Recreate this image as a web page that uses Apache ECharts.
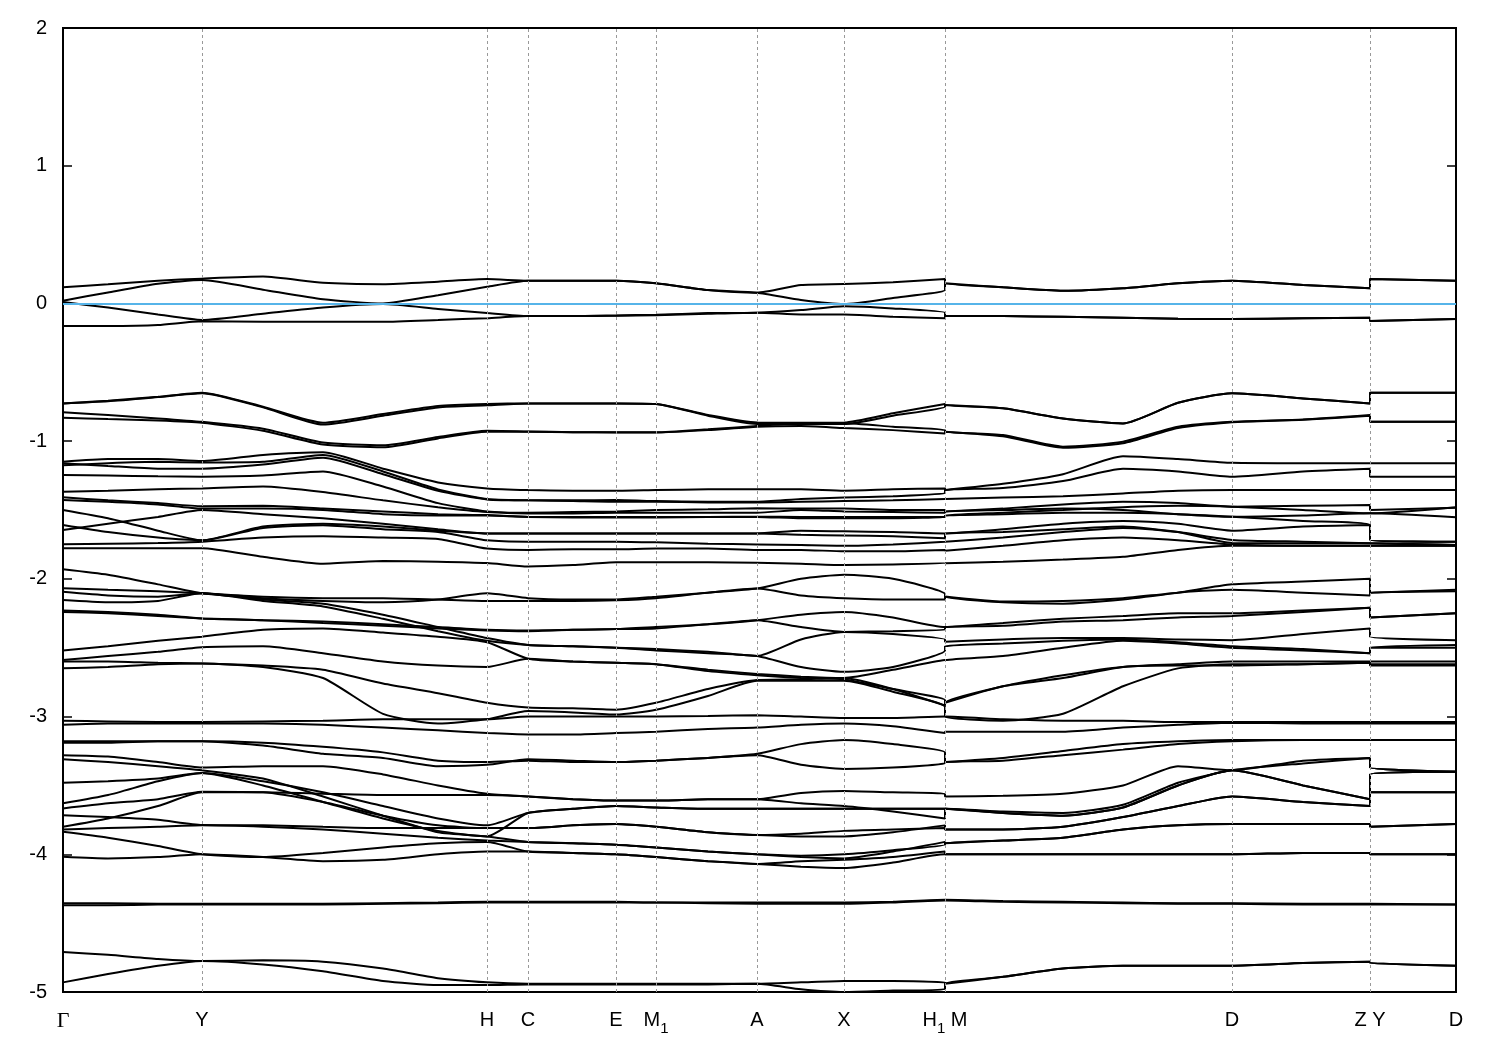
<!DOCTYPE html>
<html><head><meta charset="utf-8">
<script src="https://cdn.jsdelivr.net/npm/echarts@6/dist/echarts.min.js"></script>
<style>html,body{margin:0;padding:0;background:#fff}#c{width:1500px;height:1050px}</style>
</head><body><div id="c"></div>
<script>
// k-path sample positions (path distance units)
const kx = [0,45,95,139,200,260,320,375,424,465,510,553,593,645,694,738,781,830,882,882,940,1000,1060,1115,1169,1240,1307,1307,1393];
// high-symmetry points
const kTickPos = [0,139,424,465,553,593,694,781,882,1169,1307,1393];
const kTickLabels = ['{g|Γ}','{a|Y}','{a|H}','{a|C}','{a|E}','{a|M}{s|1}','{a|A}','{a|X}','{a|H}{s|1}{a| M}','{a|D}','{a|Z Y}','{a|D}'];
const fermiLevel = 0;

// energies (eV) at kx for each band
const bandsA = [
 [0.117,0.14,0.165,0.18,0.195,0.15,0.14,0.158,0.177,0.165,0.165,0.165,0.146,0.097,0.078,0.134,0.141,0.153,0.177,0.146,0.117,0.092,0.11,0.146,0.165,0.134,0.11,0.177,0.165],
 [0.02,0.08,0.143,0.17,0.1,0.03,0.0,0.06,0.121,0.165,0.165,0.165,0.146,0.097,0.078,0.025,-0.005,0.04,0.097,0.146,0.117,0.092,0.11,0.146,0.165,0.134,0.11,0.177,0.165],
 [0.01,-0.03,-0.08,-0.12,-0.075,-0.03,-0.005,-0.04,-0.07,-0.092,-0.092,-0.087,-0.082,-0.07,-0.067,-0.048,-0.02,-0.036,-0.067,-0.092,-0.092,-0.097,-0.104,-0.111,-0.113,-0.108,-0.104,-0.128,-0.113],
 [-0.164,-0.164,-0.157,-0.13,-0.133,-0.133,-0.133,-0.12,-0.107,-0.092,-0.092,-0.09,-0.085,-0.075,-0.067,-0.08,-0.08,-0.097,-0.107,-0.092,-0.092,-0.097,-0.104,-0.111,-0.113,-0.108,-0.104,-0.128,-0.113]
];
const bandsB = [
 [-0.726,-0.707,-0.678,-0.648,-0.75,-0.866,-0.803,-0.745,-0.73,-0.726,-0.726,-0.726,-0.73,-0.81,-0.865,-0.866,-0.865,-0.798,-0.73,-0.738,-0.762,-0.835,-0.871,-0.721,-0.653,-0.69,-0.726,-0.648,-0.648],
 [-0.726,-0.71,-0.68,-0.652,-0.755,-0.88,-0.815,-0.755,-0.74,-0.726,-0.726,-0.726,-0.73,-0.815,-0.875,-0.875,-0.875,-0.815,-0.75,-0.738,-0.762,-0.835,-0.871,-0.721,-0.653,-0.69,-0.726,-0.648,-0.648],
 [-0.79,-0.81,-0.835,-0.86,-0.91,-1.01,-1.03,-0.97,-0.925,-0.93,-0.935,-0.936,-0.936,-0.914,-0.89,-0.87,-0.87,-0.895,-0.919,-0.932,-0.956,-1.04,-1.004,-0.895,-0.859,-0.842,-0.81,-0.859,-0.859],
 [-0.83,-0.84,-0.85,-0.866,-0.925,-1.025,-1.045,-0.98,-0.932,-0.932,-0.935,-0.937,-0.937,-0.92,-0.895,-0.89,-0.905,-0.92,-0.944,-0.932,-0.965,-1.048,-1.015,-0.905,-0.862,-0.845,-0.815,-0.859,-0.859]
];
const bandsC = [
 [-1.15,-1.13,-1.13,-1.145,-1.1,-1.08,-1.2,-1.3,-1.343,-1.355,-1.36,-1.36,-1.355,-1.35,-1.35,-1.35,-1.36,-1.35,-1.343,-1.355,-1.31,-1.24,-1.11,-1.13,-1.157,-1.16,-1.16,-1.16,-1.16],
 [-1.16,-1.18,-1.2,-1.2,-1.17,-1.12,-1.24,-1.36,-1.423,-1.43,-1.43,-1.428,-1.435,-1.44,-1.44,-1.42,-1.41,-1.4,-1.379,-1.355,-1.34,-1.29,-1.2,-1.22,-1.258,-1.22,-1.2,-1.258,-1.258],
 [-1.175,-1.16,-1.15,-1.155,-1.15,-1.1,-1.22,-1.35,-1.42,-1.43,-1.435,-1.44,-1.44,-1.445,-1.445,-1.44,-1.435,-1.43,-1.42,-1.42,-1.41,-1.4,-1.38,-1.36,-1.355,-1.355,-1.355,-1.355,-1.355],
 [-1.246,-1.25,-1.255,-1.258,-1.25,-1.22,-1.33,-1.45,-1.51,-1.52,-1.515,-1.51,-1.5,-1.495,-1.488,-1.49,-1.49,-1.5,-1.5,-1.51,-1.49,-1.46,-1.44,-1.45,-1.476,-1.47,-1.464,-1.5,-1.483],
 [-1.367,-1.36,-1.35,-1.343,-1.33,-1.37,-1.43,-1.48,-1.515,-1.525,-1.525,-1.52,-1.52,-1.52,-1.52,-1.5,-1.51,-1.515,-1.52,-1.51,-1.5,-1.49,-1.5,-1.53,-1.549,-1.54,-1.524,-1.524,-1.553],
 [-1.408,-1.43,-1.45,-1.472,-1.47,-1.49,-1.51,-1.53,-1.537,-1.55,-1.55,-1.55,-1.55,-1.55,-1.549,-1.55,-1.55,-1.55,-1.55,-1.54,-1.52,-1.5,-1.48,-1.47,-1.476,-1.5,-1.524,-1.524,-1.48],
 [-1.428,-1.44,-1.46,-1.49,-1.49,-1.5,-1.53,-1.54,-1.54,-1.55,-1.555,-1.555,-1.555,-1.55,-1.55,-1.56,-1.56,-1.56,-1.55,-1.54,-1.53,-1.52,-1.52,-1.53,-1.549,-1.58,-1.609,-1.717,-1.73],
 [-1.5,-1.56,-1.65,-1.72,-1.62,-1.6,-1.62,-1.65,-1.67,-1.67,-1.67,-1.67,-1.67,-1.67,-1.67,-1.65,-1.655,-1.66,-1.67,-1.67,-1.64,-1.6,-1.58,-1.6,-1.65,-1.62,-1.609,-1.717,-1.73],
 [-1.609,-1.66,-1.7,-1.72,-1.63,-1.61,-1.64,-1.66,-1.72,-1.73,-1.73,-1.73,-1.735,-1.745,-1.75,-1.755,-1.76,-1.75,-1.73,-1.73,-1.7,-1.66,-1.63,-1.66,-1.717,-1.73,-1.742,-1.742,-1.754],
 [-1.645,-1.6,-1.55,-1.5,-1.53,-1.56,-1.6,-1.64,-1.67,-1.67,-1.67,-1.67,-1.67,-1.67,-1.67,-1.68,-1.685,-1.69,-1.706,-1.67,-1.66,-1.64,-1.62,-1.66,-1.74,-1.742,-1.742,-1.742,-1.754],
 [-1.749,-1.745,-1.74,-1.73,-1.7,-1.69,-1.7,-1.71,-1.78,-1.79,-1.785,-1.785,-1.78,-1.78,-1.79,-1.79,-1.8,-1.8,-1.79,-1.796,-1.76,-1.72,-1.7,-1.72,-1.75,-1.76,-1.76,-1.76,-1.76],
 [-1.778,-1.778,-1.778,-1.778,-1.84,-1.89,-1.87,-1.875,-1.885,-1.91,-1.9,-1.88,-1.88,-1.88,-1.883,-1.89,-1.9,-1.895,-1.887,-1.883,-1.875,-1.86,-1.84,-1.79,-1.76,-1.76,-1.76,-1.76,-1.76]
];
const bandsD = [
 [-1.93,-1.97,-2.04,-2.105,-2.14,-2.16,-2.17,-2.15,-2.105,-2.14,-2.15,-2.15,-2.13,-2.1,-2.07,-2.0,-1.97,-2.0,-2.11,-2.128,-2.17,-2.18,-2.15,-2.1,-2.04,-2.02,-2.0,-2.1,-2.08],
 [-2.068,-2.08,-2.09,-2.105,-2.13,-2.14,-2.14,-2.15,-2.16,-2.16,-2.16,-2.155,-2.14,-2.1,-2.07,-2.12,-2.14,-2.15,-2.15,-2.128,-2.165,-2.16,-2.14,-2.1,-2.08,-2.1,-2.12,-2.1,-2.09],
 [-2.094,-2.12,-2.13,-2.105,-2.15,-2.18,-2.26,-2.35,-2.43,-2.48,-2.49,-2.5,-2.51,-2.53,-2.56,-2.44,-2.385,-2.4,-2.44,-2.457,-2.44,-2.43,-2.43,-2.44,-2.445,-2.4,-2.36,-2.42,-2.445],
 [-2.154,-2.17,-2.16,-2.105,-2.16,-2.2,-2.29,-2.38,-2.45,-2.48,-2.49,-2.5,-2.52,-2.54,-2.56,-2.64,-2.675,-2.64,-2.52,-2.49,-2.47,-2.45,-2.44,-2.46,-2.49,-2.51,-2.54,-2.5,-2.48],
 [-2.23,-2.24,-2.26,-2.287,-2.3,-2.31,-2.33,-2.35,-2.37,-2.375,-2.37,-2.365,-2.35,-2.33,-2.3,-2.26,-2.24,-2.28,-2.35,-2.35,-2.32,-2.29,-2.27,-2.25,-2.25,-2.23,-2.21,-2.28,-2.25],
 [-2.24,-2.25,-2.27,-2.287,-2.3,-2.32,-2.34,-2.36,-2.375,-2.38,-2.37,-2.365,-2.36,-2.33,-2.3,-2.35,-2.385,-2.38,-2.37,-2.35,-2.34,-2.31,-2.3,-2.28,-2.27,-2.24,-2.21,-2.28,-2.25],
 [-2.52,-2.49,-2.45,-2.42,-2.37,-2.36,-2.39,-2.42,-2.46,-2.58,-2.6,-2.61,-2.62,-2.66,-2.69,-2.71,-2.72,-2.66,-2.59,-2.59,-2.56,-2.5,-2.45,-2.47,-2.5,-2.52,-2.54,-2.5,-2.5],
 [-2.59,-2.56,-2.53,-2.497,-2.49,-2.54,-2.6,-2.63,-2.64,-2.58,-2.6,-2.61,-2.62,-2.67,-2.7,-2.72,-2.73,-2.8,-2.88,-2.9,-2.78,-2.72,-2.64,-2.62,-2.6,-2.6,-2.6,-2.6,-2.6],
 [-2.6,-2.6,-2.61,-2.614,-2.63,-2.66,-2.76,-2.83,-2.9,-2.935,-2.94,-2.95,-2.9,-2.8,-2.735,-2.73,-2.72,-2.8,-2.92,-2.9,-2.78,-2.7,-2.64,-2.63,-2.63,-2.62,-2.61,-2.63,-2.63],
 [-2.65,-2.64,-2.62,-2.614,-2.64,-2.72,-2.98,-3.05,-3.02,-2.96,-2.97,-2.985,-2.95,-2.85,-2.74,-2.74,-2.74,-2.82,-2.93,-3.0,-3.03,-2.98,-2.78,-2.65,-2.62,-2.62,-2.61,-2.62,-2.62]
];
const bandsE = [
 [-3.03,-3.035,-3.04,-3.04,-3.035,-3.03,-3.02,-3.02,-3.02,-3.0,-3.0,-3.0,-3.0,-2.995,-2.99,-3.0,-3.01,-3.01,-3.0,-3.0,-3.02,-3.03,-3.03,-3.04,-3.04,-3.04,-3.04,-3.04,-3.04],
 [-3.06,-3.05,-3.05,-3.05,-3.05,-3.06,-3.08,-3.1,-3.12,-3.13,-3.13,-3.12,-3.11,-3.09,-3.08,-3.06,-3.05,-3.07,-3.12,-3.11,-3.11,-3.11,-3.08,-3.06,-3.045,-3.05,-3.05,-3.05,-3.05],
 [-3.18,-3.18,-3.18,-3.18,-3.21,-3.27,-3.3,-3.36,-3.35,-3.31,-3.32,-3.33,-3.32,-3.3,-3.27,-3.2,-3.17,-3.2,-3.26,-3.33,-3.3,-3.25,-3.2,-3.18,-3.17,-3.17,-3.17,-3.17,-3.17],
 [-3.19,-3.19,-3.18,-3.18,-3.19,-3.22,-3.26,-3.32,-3.33,-3.32,-3.33,-3.33,-3.32,-3.3,-3.28,-3.35,-3.38,-3.37,-3.34,-3.33,-3.32,-3.28,-3.24,-3.2,-3.18,-3.17,-3.17,-3.17,-3.17]
];
const bandsF = [
 [-3.28,-3.29,-3.33,-3.37,-3.36,-3.36,-3.42,-3.5,-3.56,-3.58,-3.6,-3.61,-3.61,-3.6,-3.6,-3.555,-3.54,-3.55,-3.56,-3.58,-3.575,-3.56,-3.5,-3.36,-3.39,-3.32,-3.3,-3.37,-3.4],
 [-3.31,-3.33,-3.36,-3.39,-3.45,-3.58,-3.72,-3.84,-3.87,-3.91,-3.92,-3.93,-3.95,-3.98,-4.0,-4.02,-4.03,-3.98,-3.91,-3.92,-3.9,-3.88,-3.82,-3.79,-3.78,-3.78,-3.78,-3.8,-3.78],
 [-3.48,-3.47,-3.45,-3.41,-3.47,-3.55,-3.65,-3.74,-3.79,-3.7,-3.67,-3.65,-3.66,-3.67,-3.67,-3.67,-3.67,-3.67,-3.67,-3.67,-3.7,-3.72,-3.66,-3.5,-3.39,-3.5,-3.6,-3.42,-3.4],
 [-3.63,-3.57,-3.47,-3.41,-3.5,-3.62,-3.74,-3.83,-3.87,-3.7,-3.67,-3.65,-3.66,-3.67,-3.67,-3.67,-3.67,-3.67,-3.67,-3.67,-3.69,-3.7,-3.64,-3.48,-3.39,-3.34,-3.3,-3.37,-3.4],
 [-3.667,-3.63,-3.6,-3.546,-3.55,-3.62,-3.72,-3.79,-3.81,-3.81,-3.79,-3.78,-3.8,-3.84,-3.86,-3.85,-3.83,-3.82,-3.81,-3.82,-3.82,-3.8,-3.73,-3.65,-3.58,-3.62,-3.65,-3.55,-3.55],
 [-3.716,-3.73,-3.75,-3.788,-3.79,-3.8,-3.81,-3.81,-3.81,-3.81,-3.79,-3.78,-3.8,-3.84,-3.86,-3.87,-3.87,-3.84,-3.79,-3.82,-3.82,-3.8,-3.73,-3.65,-3.58,-3.62,-3.65,-3.55,-3.55],
 [-3.8,-3.74,-3.65,-3.55,-3.55,-3.56,-3.57,-3.57,-3.57,-3.58,-3.6,-3.61,-3.61,-3.6,-3.6,-3.63,-3.65,-3.69,-3.74,-3.67,-3.7,-3.72,-3.66,-3.5,-3.39,-3.5,-3.6,-3.42,-3.4],
 [-3.82,-3.81,-3.8,-3.79,-3.8,-3.82,-3.85,-3.88,-3.9,-3.91,-3.92,-3.93,-3.95,-3.98,-4.0,-4.01,-4.0,-3.97,-3.93,-3.92,-3.9,-3.88,-3.82,-3.79,-3.78,-3.78,-3.78,-3.8,-3.78],
 [-3.837,-3.88,-3.94,-4.0,-4.02,-3.99,-3.95,-3.92,-3.91,-3.98,-3.99,-4.0,-4.02,-4.05,-4.07,-4.09,-4.1,-4.06,-4.0,-4.0,-4.0,-4.0,-4.0,-4.0,-4.0,-3.99,-3.99,-4.0,-4.0],
 [-4.018,-4.03,-4.02,-4.0,-4.02,-4.05,-4.04,-4.0,-3.98,-3.98,-3.99,-4.0,-4.02,-4.05,-4.07,-4.05,-4.04,-4.02,-3.98,-4.0,-4.0,-4.0,-4.0,-4.0,-4.0,-3.99,-3.99,-4.0,-4.0]
];
const bandsG = [
 [-4.355,-4.355,-4.36,-4.36,-4.36,-4.36,-4.355,-4.35,-4.345,-4.345,-4.345,-4.345,-4.35,-4.35,-4.35,-4.35,-4.35,-4.345,-4.33,-4.33,-4.34,-4.345,-4.35,-4.355,-4.355,-4.36,-4.36,-4.365,-4.365],
 [-4.37,-4.37,-4.365,-4.365,-4.365,-4.365,-4.36,-4.355,-4.35,-4.35,-4.35,-4.35,-4.35,-4.355,-4.36,-4.36,-4.36,-4.35,-4.335,-4.335,-4.345,-4.35,-4.355,-4.36,-4.36,-4.365,-4.365,-4.365,-4.365]
];
const bandsH = [
 [-4.71,-4.73,-4.76,-4.775,-4.77,-4.78,-4.83,-4.9,-4.93,-4.94,-4.94,-4.94,-4.94,-4.94,-4.94,-4.93,-4.92,-4.92,-4.93,-4.94,-4.89,-4.83,-4.81,-4.81,-4.81,-4.79,-4.78,-4.79,-4.81],
 [-4.93,-4.87,-4.81,-4.775,-4.8,-4.85,-4.92,-4.95,-4.95,-4.945,-4.945,-4.945,-4.945,-4.945,-4.94,-4.98,-5.0,-4.99,-4.98,-4.94,-4.89,-4.83,-4.81,-4.81,-4.81,-4.79,-4.78,-4.79,-4.81]
];

const allBands = [].concat(bandsA, bandsB, bandsC, bandsD, bandsE, bandsF, bandsG, bandsH);
const chart = echarts.init(document.getElementById('c'), null, {renderer: 'canvas'});

const series = allBands.map(b => ({
  type: 'line', data: b.map((e, i) => [kx[i], e]),
  showSymbol: false, symbol: 'none', smooth: 0.2, silent: true, z: 3,
  lineStyle: { color: '#000', width: 2 }
}));
series.push({
  type: 'line', data: [], silent: true, z: 2,
  markLine: { symbol: 'none', silent: true, label: { show: false },
    lineStyle: { color: '#999', type: [3, 3], width: 1 },
    data: kTickPos.slice(1, -1).map(v => ({ xAxis: v })) }
});
series.push({
  type: 'line', data: [], silent: true, z: 4,
  markLine: { symbol: 'none', silent: true, label: { show: false },
    lineStyle: { color: '#56B4E9', type: 'solid', width: 1.8 },
    data: [{ yAxis: fermiLevel }] }
});

const yAxisBase = {
  type: 'value', min: -5, max: 2, interval: 1,
  axisLine: { show: false },
  axisTick: { show: true, inside: true, length: 9, lineStyle: { color: '#000', width: 1.5 } },
  splitLine: { show: false }
};

chart.setOption({
  animation: false,
  backgroundColor: '#fff',
  grid: { left: 63, right: 44, top: 28, bottom: 58, show: true, borderColor: '#000', borderWidth: 2, backgroundColor: 'transparent' },
  xAxis: {
    type: 'value', min: 0, max: 1393,
    axisLine: { show: false }, axisTick: { show: false }, splitLine: { show: false },
    axisLabel: {
      customValues: kTickPos, margin: 18, color: '#000',
      formatter: v => { let best = 0; kTickPos.forEach((p, i) => { if (Math.abs(p - v) < Math.abs(kTickPos[best] - v)) best = i; }); return kTickLabels[best]; },
      rich: {
        a: { fontSize: 20, fontFamily: 'Liberation Sans', color: '#000', lineHeight: 26, verticalAlign: 'top' },
        g: { fontSize: 22, fontFamily: 'Liberation Serif', color: '#000', lineHeight: 26, verticalAlign: 'top' },
        s: { fontSize: 15, fontFamily: 'Liberation Sans', color: '#000', lineHeight: 26, verticalAlign: 'bottom' }
      }
    }
  },
  yAxis: [
    Object.assign({}, yAxisBase, { position: 'left', axisLabel: { fontSize: 20, fontFamily: 'Liberation Sans', color: '#000', margin: 16 } }),
    Object.assign({}, yAxisBase, { position: 'right', axisLabel: { show: false } })
  ],
  series: series
});
</script></body></html>
